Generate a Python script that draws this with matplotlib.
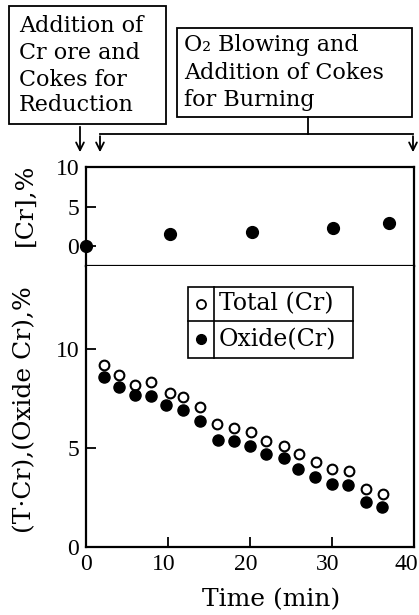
import matplotlib
matplotlib.use("Agg")
import matplotlib.pyplot as plt
from matplotlib.lines import Line2D
from matplotlib.patches import Rectangle
from matplotlib.transforms import ScaledTranslation

plt.rcParams['font.family'] = ['DejaVu Serif']

# ---- data ----
cr_time = [0, 10.2, 20.2, 30.1, 37.0]
cr_metal = [0.0, 1.5, 1.75, 2.25, 2.9]

t_total = [2.2, 4.0, 6.0, 7.9, 10.2, 11.8, 13.9, 16.0, 18.0, 20.1, 22.0, 24.1, 26.0, 28.1, 30.0, 32.1, 34.2, 36.2]
total_cr = [9.2, 8.7, 8.2, 8.35, 7.8, 7.6, 7.05, 6.2, 6.0, 5.8, 5.35, 5.1, 4.7, 4.3, 3.95, 3.85, 2.95, 2.7]

t_oxide = [2.2, 4.0, 6.0, 7.9, 9.8, 11.8, 13.9, 16.1, 18.0, 20.0, 22.0, 24.1, 25.8, 27.9, 30.0, 31.9, 34.2, 36.1]
oxide_cr = [8.6, 8.1, 7.7, 7.65, 7.2, 6.9, 6.35, 5.4, 5.35, 5.1, 4.7, 4.5, 3.95, 3.55, 3.2, 3.15, 2.25, 2.0]

x_ticks = [0, 10, 20, 30, 40]
lower_yticks = [0, 5, 10]
upper_yticks = [0, 5, 10]

W, H = 419, 615
fig = plt.figure(figsize=(W / 100, H / 100), dpi=100)

def px2fig(x0, y0, x1, y1):
    return [x0 / W, 1 - y1 / H, (x1 - x0) / W, (y1 - y0) / H]

LW = 1.6
tick_family = 'Liberation Serif'
tick_size = 17

ax_up = fig.add_axes(px2fig(86, 167, 414, 266))
ax_lo = fig.add_axes(px2fig(86, 266, 414, 547), sharex=ax_up)

# upper panel: [Cr]
ax_up.plot(cr_time, cr_metal, 'o', color='black', markersize=8.5, clip_on=False, zorder=5)
ax_up.set_ylim(-2.5, 10)
ax_up.set_yticks(upper_yticks)
ax_up.set_xlim(0, 40)
ax_up.tick_params(axis='x', which='both', bottom=False, labelbottom=False)
for s in ax_up.spines.values():
    s.set_linewidth(LW)

# lower panel: total / oxide Cr
ax_lo.plot(t_total, total_cr, 'o', markerfacecolor='white', markeredgecolor='black',
           markeredgewidth=1.5, markersize=7, zorder=4)
ax_lo.plot(t_oxide, oxide_cr, 'o', color='black', markersize=8, zorder=5)
ax_lo.set_ylim(0, 14.2)
ax_lo.set_yticks(lower_yticks)
ax_lo.set_xticks(x_ticks)
ax_lo.spines['top'].set_visible(False)
for s in ax_lo.spines.values():
    s.set_linewidth(LW)

for ax in (ax_up, ax_lo):
    ax.tick_params(direction='in', length=7, width=1.3, pad=5)
    for lab in ax.get_yticklabels():
        lab.set_fontfamily(tick_family)
        lab.set_fontsize(tick_size)

xlabs = ax_lo.get_xticklabels()
shifts = [0, -4, -4, -4, -8]
for lab, dx in zip(xlabs, shifts):
    lab.set_fontfamily(tick_family)
    lab.set_fontsize(tick_size)
    lab.set_transform(lab.get_transform() + ScaledTranslation(dx / 100, 0, fig.dpi_scale_trans))

# axis labels
fig.text(271 / W, 1 - 600 / H, 'Time (min)', fontsize=18, ha='center', va='center')
fig.text(25 / W, 1 - 205 / H, '[Cr],%', fontsize=18, rotation=90, ha='center', va='center')
fig.text(25 / W, 1 - 410 / H, '(T·Cr),(Oxide Cr),%', fontsize=18, rotation=90,
         ha='center', va='center')

# legend drawn as a small table
lt = ax_lo.transAxes
x0, x1, xd = 0.311, 0.814, 0.390
y0, y1, ym = 0.673, 0.925, 0.804
ax_lo.add_patch(Rectangle((x0, y0), x1 - x0, y1 - y0, transform=lt, fill=False,
                          linewidth=1.2, edgecolor='black', zorder=6))
ax_lo.add_line(Line2D([xd, xd], [y0, y1], transform=lt, color='black', linewidth=1.2, zorder=6))
ax_lo.add_line(Line2D([x0, x1], [ym, ym], transform=lt, color='black', linewidth=1.2, zorder=6))
ax_lo.plot([(x0 + xd) / 2], [(ym + y1) / 2], 'o', transform=lt, markerfacecolor='white',
           markeredgecolor='black', markeredgewidth=1.3, markersize=6.5, zorder=7)
ax_lo.plot([(x0 + xd) / 2], [(y0 + ym) / 2], 'o', transform=lt, color='black',
           markersize=7, zorder=7)
ax_lo.text(xd + 0.015, (ym + y1) / 2, 'Total (Cr)', transform=lt, fontsize=17,
           va='center', ha='left', zorder=7)
ax_lo.text(xd + 0.015, (y0 + ym) / 2, 'Oxide(Cr)', transform=lt, fontsize=17,
           va='center', ha='left', zorder=7)

# annotation overlay in pixel coordinates
ov = fig.add_axes([0, 0, 1, 1], facecolor='none')
ov.set_xlim(0, W)
ov.set_ylim(H, 0)
ov.axis('off')

box_fs = 16
ov.add_patch(Rectangle((9, 6), 157, 118, fill=False, linewidth=1.3, edgecolor='black'))
for txt, yc in [('Addition of', 26), ('Cr ore and', 53), ('Cokes for', 80), ('Reduction', 105)]:
    ov.text(19, yc, txt, fontsize=box_fs, va='center', ha='left')

ov.add_patch(Rectangle((177, 28), 235, 89, fill=False, linewidth=1.3, edgecolor='black'))
for txt, yc in [('O₂ Blowing and', 45), ('Addition of Cokes', 73), ('for Burning', 100)]:
    ov.text(184, yc, txt, fontsize=box_fs, va='center', ha='left')

lk = dict(color='black', linewidth=1.3)
ov.plot([308, 308], [117, 134], **lk)
ov.plot([100, 413], [134, 134], **lk)
arrowprops = dict(arrowstyle='->', color='black', lw=1.3, mutation_scale=14)
ov.annotate('', xy=(80, 155), xytext=(80, 124), arrowprops=arrowprops)
ov.annotate('', xy=(100, 155), xytext=(100, 133.4), arrowprops=arrowprops)
ov.annotate('', xy=(413, 155), xytext=(413, 133.4), arrowprops=arrowprops)

fig.savefig('out.png', dpi=100)
